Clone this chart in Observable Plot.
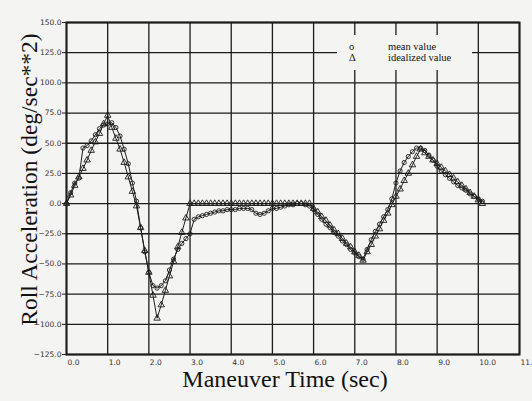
<!DOCTYPE html>
<html>
<head>
<meta charset="utf-8">
<script src="https://cdn.jsdelivr.net/npm/d3@7"></script>
<script src="https://cdn.jsdelivr.net/npm/@observablehq/plot@0.6"></script>
<style>
  html, body { margin: 0; padding: 0; background: #f4f4f2; }
  #wrap { position: relative; width: 532px; height: 401px; overflow: hidden; }
  #legend { position: absolute; left: 337px; top: 35px; width: 135px; height: 35px; background: #f4f4f2;
            font-family: "Liberation Serif", "DejaVu Serif", serif; font-size: 10.5px; line-height: 12px; color: #111; }
  #legend div { position: absolute; white-space: nowrap; }
</style>
</head>
<body>
<div id="wrap"></div>
<script>
const time = [0.0,0.1,0.2,0.3,0.4,0.5,0.6,0.7,0.8,0.9,1.0,1.1,1.2,1.3,1.4,1.5,1.6,1.7,1.8,1.9,
  2.0,2.1,2.2,2.3,2.4,2.5,2.6,2.7,2.8,2.9,3.0,3.1,3.2,3.3,3.4,3.5,3.6,3.7,3.8,3.9,
  4.0,4.1,4.2,4.3,4.4,4.5,4.6,4.7,4.8,4.9,5.0,5.1,5.2,5.3,5.4,5.5,5.6,5.7,5.8,5.9,
  6.0,6.1,6.2,6.3,6.4,6.5,6.6,6.7,6.8,6.9,7.0,7.1,7.2,7.3,7.4,7.5,7.6,7.7,7.8,7.9,
  8.0,8.1,8.2,8.3,8.4,8.5,8.6,8.7,8.8,8.9,9.0,9.1,9.2,9.3,9.4,9.5,9.6,9.7,9.8,9.9,
  10.0,10.1];
const meanValue = [0,9,17,21,46,48,52,57,62,65,66,67,63,56,45,33,17,2,-20,-40,
  -57,-68,-70,-68,-64,-55,-46,-38,-33,-29,-25,-13,-11,-10,-9,-8,-7,-6,-6,-5,
  -5,-5,-4,-4,-4,-5,-8,-9,-8,-6,-4,-4,-3,-2,-1,-1,0,0,-1,-2,
  -5,-9,-13,-17,-20,-24,-27,-31,-34,-38,-41,-44,-46,-38,-30,-23,-17,-11,-5,4,
  17,27,34,39,43,46,46,44,40,36,31,27,24,21,18,15,13,11,8,6,
  4,2];
const idealizedValue = [0,7,15,22,29,36,44,51,58,66,73,63,54,45,34,22,10,-2,-20,-39,
  -57,-76,-95,-84,-72,-60,-48,-36,-24,-12,0,0,0,0,0,0,0,0,0,0,
  0,0,0,0,0,0,0,0,0,0,0,0,0,0,0,0,0,0,0,0,
  -4,-7,-11,-14,-18,-22,-25,-29,-33,-36,-40,-43,-47,-40,-34,-27,-21,-14,-8,-1,
  6,12,19,25,32,39,45,42,39,36,33,30,27,24,21,18,15,12,9,6,
  3,0];
const xTicks = [0,1,2,3,4,5,6,7,8,9,10,11];
const yTicks = [-125,-100,-75,-50,-25,0,25,50,75,100,125,150];
const yTitle = "Roll Acceleration (deg/sec**2)";
const xTitle = "Maneuver Time (sec)";
const legendItems = [{sym: "o", label: "mean value"}, {sym: "Δ", label: "idealized value"}];

const mean = time.map((t, i) => ({t, v: meanValue[i]}));
const ideal = time.map((t, i) => ({t, v: idealizedValue[i]}));
const fmt = d3.format(".1f");
const ink = "#1c1c1c";

const chart = Plot.plot({
  width: 532,
  height: 401,
  marginLeft: 66,
  marginRight: 13,
  marginTop: 22,
  marginBottom: 47,
  style: {background: "#f4f4f2", fontFamily: "DejaVu Sans, sans-serif"},
  x: {domain: [0, 11]},
  y: {domain: [-125, 150]},
  marks: [
    Plot.gridX(xTicks, {stroke: ink, strokeOpacity: 1, strokeWidth: 1.3}),
    Plot.gridY(yTicks, {stroke: ink, strokeOpacity: 1, strokeWidth: 1.3}),
    Plot.frame({stroke: ink, strokeWidth: 2}),
    Plot.axisX(xTicks, {tickFormat: fmt, tickSize: 0, tickPadding: 5, textAnchor: "start", dx: 1,
      fontSize: 7.5, fill: "#333", label: null}),
    Plot.axisY(yTicks, {tickFormat: fmt, tickSize: 4, tickPadding: 1, fontSize: 7.5, fill: "#333",
      stroke: ink, label: null}),
    Plot.line(ideal, {x: "t", y: "v", stroke: ink, strokeWidth: 1}),
    Plot.line(mean, {x: "t", y: "v", stroke: ink, strokeWidth: 1}),
    Plot.dot(ideal, {x: "t", y: "v", symbol: "triangle", r: 2.4, stroke: ink, strokeWidth: 0.9, fill: "none"}),
    Plot.dot(mean, {x: "t", y: "v", symbol: "circle", r: 2.1, stroke: ink, strokeWidth: 0.9, fill: "none"}),
    Plot.text([yTitle], {frameAnchor: "left", textAnchor: "middle", lineAnchor: "middle", rotate: -90,
      dx: -37, dy: -9, fontSize: 23.5, fontFamily: "Liberation Serif, serif", fill: "#111"}),
    Plot.text([xTitle], {frameAnchor: "bottom", textAnchor: "middle", lineAnchor: "middle",
      dy: 25, dx: -8, fontSize: 24, fontFamily: "Liberation Serif, serif", fill: "#111"})
  ]
});
const wrap = document.getElementById("wrap");
wrap.appendChild(chart);

const legend = document.createElement("div");
legend.id = "legend";
legendItems.forEach((d, i) => {
  const s = document.createElement("div");
  s.textContent = d.sym;
  s.style.left = "12px";
  s.style.top = (6 + i * 11) + "px";
  legend.appendChild(s);
  const l = document.createElement("div");
  l.textContent = d.label;
  l.style.left = "51px";
  l.style.top = (6 + i * 11) + "px";
  legend.appendChild(l);
});
wrap.appendChild(legend);
</script>
</body>
</html>
